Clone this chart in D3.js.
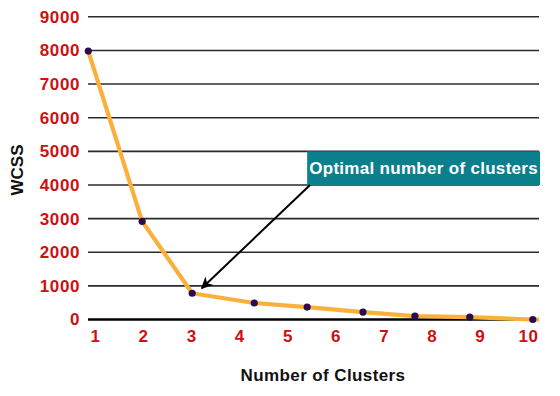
<!DOCTYPE html>
<html><head><meta charset="utf-8">
<script src="https://cdn.jsdelivr.net/npm/d3@7/dist/d3.min.js"></script>
<style>
html,body{margin:0;padding:0;background:#fff;}
svg{display:block;font-family:"Liberation Sans",Arial,sans-serif;}
</style></head>
<body><svg id="c" width="560" height="396"></svg>
<script>
// ---- data ----
const xTicks = [1,2,3,4,5,6,7,8,9,10];
const yTicks = [0,1000,2000,3000,4000,5000,6000,7000,8000,9000];
// cluster position (as read on the x axis) and WCSS of each marked point
const pointX = [0.86, 1.98, 3.02, 4.31, 5.41, 6.57, 7.65, 8.79, 10.1];
const pointY = [7980, 2920, 780, 490, 370, 220, 100, 70, 0];
// the orange curve ends on the baseline past the last point
const lineEndX = 10.23, lineEndY = 0;
const annotationText = "Optimal number of clusters";
const annoBox = {x0: 5.41, x1: 10.25, y0: 4000, y1: 5000};
const arrowFrom = {x: 5.47, y: 4000};
const arrowTo = {x: 3.22, y: 930};
const yTitle = "WCSS", xTitle = "Number of Clusters";

// ---- layout ----
const svg = d3.select("#c");
const x = d3.scaleLinear().domain([1,10]).range([95,528]);
const y = d3.scaleLinear().domain([0,9000]).range([319.5,16.8]);
const gridL = 88, gridR = 539;
const red = "#cc1111";

// gridlines
svg.append("g").selectAll("line").data(yTicks.filter(d=>d>0)).join("line")
  .attr("x1",gridL).attr("x2",gridR)
  .attr("y1",d=>y(d)).attr("y2",d=>y(d))
  .attr("stroke","#2b2b2b").attr("stroke-width",1.6);

// y axis labels
const yAxis = d3.axisLeft(y).tickValues(yTicks).tickSize(0).tickPadding(0).tickFormat(d3.format("d"));
const ya = svg.append("g").attr("transform","translate(80,0)").call(yAxis);
ya.select(".domain").remove();
ya.selectAll("text").attr("fill",red).attr("font-size",17).attr("font-weight","bold")
  .attr("font-family","Liberation Sans, Arial, sans-serif").style("letter-spacing","0.6px");

// x axis labels
const xAxis = d3.axisBottom(x).tickValues(xTicks).tickSize(0).tickPadding(0).tickFormat(d3.format("d"));
const xa = svg.append("g").attr("transform","translate(0,342)").call(xAxis);
xa.select(".domain").remove();
xa.selectAll("text").attr("fill",red).attr("font-size",17).attr("font-weight","bold")
  .attr("font-family","Liberation Sans, Arial, sans-serif").attr("dy",0).style("letter-spacing","0.6px");

// baseline
svg.append("line").attr("x1",gridL).attr("x2",gridR).attr("y1",y(0)).attr("y2",y(0))
  .attr("stroke","#000").attr("stroke-width",2.6);

// orange curve
const pts = pointX.map((v,i)=>[v,pointY[i]]).concat([[lineEndX,lineEndY]]);
svg.append("path").datum(pts)
  .attr("d", d3.line().x(d=>x(d[0])).y(d=>y(d[1])))
  .attr("fill","none").attr("stroke","#fbb03b").attr("stroke-width",4.2)
  .attr("stroke-linejoin","round");

// dots
svg.append("g").selectAll("circle").data(pointX.map((v,i)=>[v,pointY[i]])).join("circle")
  .attr("cx",d=>x(d[0])).attr("cy",d=>y(d[1])).attr("r",3.6).attr("fill","#2a0b4f");

// annotation box
svg.append("rect")
  .attr("x",x(annoBox.x0)).attr("y",y(annoBox.y1))
  .attr("width",x(annoBox.x1)-x(annoBox.x0)).attr("height",y(annoBox.y0)-y(annoBox.y1))
  .attr("fill","#0b7f8c");
svg.append("text")
  .attr("x",(x(annoBox.x0)+x(annoBox.x1))/2).attr("y",(y(annoBox.y0)+y(annoBox.y1))/2+6)
  .attr("text-anchor","middle").attr("fill","#fff").attr("font-size",17).attr("font-weight","bold")
  .style("letter-spacing","0.3px").text(annotationText);

// arrow
svg.append("defs").append("marker").attr("id","ah").attr("viewBox","0 0 10 10")
  .attr("refX",9).attr("refY",5).attr("markerWidth",6).attr("markerHeight",6)
  .attr("orient","auto").attr("markerUnits","userSpaceOnUse")
  .attr("markerWidth",14).attr("markerHeight",12)
  .append("path").attr("d","M0,0 L10,5 L0,10 L3,5 Z").attr("fill","#000");
svg.append("line")
  .attr("x1",x(arrowFrom.x)).attr("y1",y(arrowFrom.y))
  .attr("x2",x(arrowTo.x)).attr("y2",y(arrowTo.y))
  .attr("stroke","#000").attr("stroke-width",2).attr("marker-end","url(#ah)");

// titles
svg.append("text").attr("transform","translate(23,170) rotate(-90)")
  .attr("text-anchor","middle").attr("font-size",17).attr("font-weight","bold").attr("fill","#111")
  .text(yTitle);
svg.append("text").attr("x",323).attr("y",381)
  .attr("text-anchor","middle").attr("font-size",17).attr("font-weight","bold").attr("fill","#111")
  .style("letter-spacing","0.4px").text(xTitle);
</script></body></html>
